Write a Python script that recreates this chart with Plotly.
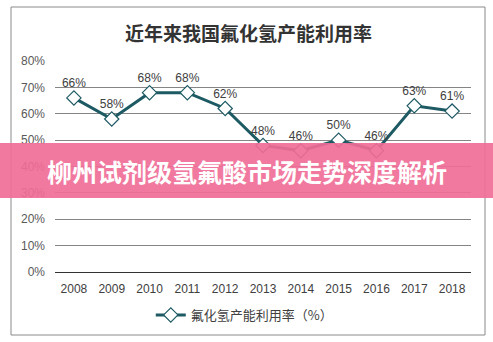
import plotly.graph_objects as go

years = ["2008", "2009", "2010", "2011", "2012", "2013", "2014", "2015", "2016", "2017", "2018"]
rates = [0.66, 0.58, 0.68, 0.68, 0.62, 0.48, 0.46, 0.50, 0.46, 0.63, 0.61]
labels = ["66%", "58%", "68%", "68%", "62%", "48%", "46%", "50%", "46%", "63%", "61%"]
yticks = [0, 0.1, 0.2, 0.3, 0.4, 0.5, 0.6, 0.7, 0.8]
yticktext = ["0%", "10%", "20%", "30%", "40%", "50%", "60%", "70%", "80%"]

title = "近年来我国氟化氢产能利用率"
series_name = "氟化氢产能利用率（%）"
banner = "柳州试剂级氢氟酸市场走势深度解析"

L, R, T, B = 55, 22, 61, 70
W, H = 493, 342
pw, ph = W - L - R, H - T - B
def px(x): return (x - L) / pw
def py(y): return (H - B - y) / ph

fig = go.Figure()
fig.add_trace(go.Scatter(
    x=years, y=rates, mode="lines+markers+text", name=series_name,
    text=labels, textposition="top center",
    textfont=dict(family="Liberation Sans, Arial", size=12, color="#404040"),
    line=dict(color="#1d5a63", width=3),
    marker=dict(symbol="diamond", size=11, color="white", line=dict(color="#1d5a63", width=1.2)),
    cliponaxis=False,
))

fig.update_layout(
    width=W, height=H,
    margin=dict(l=L, r=R, t=T, b=B, autoexpand=False),
    paper_bgcolor="white", plot_bgcolor="white",
    showlegend=True,
    legend=dict(orientation="h", x=0.455, xanchor="center", y=py(315), yanchor="middle",
                itemwidth=30,
                font=dict(family="Noto Sans CJK SC", size=13, color="#404040"),
                bgcolor="rgba(0,0,0,0)"),
    font=dict(family="Liberation Sans, Arial", size=12, color="#595959"),
    xaxis=dict(type="category", range=[-0.5, 10.5], automargin=False, showgrid=False, showline=True,
               linecolor="#333333", linewidth=1, ticks="", ticklabelstandoff=6,
               tickfont=dict(size=12, color="#404040"), fixedrange=True),
    yaxis=dict(range=[0, 0.8], automargin=False, tickvals=yticks, ticktext=yticktext, showgrid=True,
               gridcolor="#858585", gridwidth=1, zeroline=False, showline=False,
               ticks="", ticklabelstandoff=9, tickfont=dict(size=12, color="#595959"), fixedrange=True),
)

# outer border
fig.add_shape(type="rect", xref="paper", yref="paper",
              x0=px(11), x1=px(485), y0=py(335), y1=py(7),
              line=dict(color="#8a8a8a", width=1), fillcolor="rgba(0,0,0,0)", layer="below")

# title
fig.add_annotation(text="<b>" + title + "</b>", xref="paper", yref="paper",
                   x=px(248), y=py(32), xanchor="center", yanchor="middle", showarrow=False,
                   font=dict(family="Noto Sans CJK SC", size=19, color="#333333"))

# pink banner overlay
fig.add_shape(type="rect", xref="paper", yref="paper",
              x0=px(0), x1=px(493), y0=py(198), y1=py(143),
              line=dict(width=0), fillcolor="rgba(240,108,150,0.92)", layer="above")
fig.add_annotation(text="<b>" + banner + "</b>", xref="paper", yref="paper",
                   x=px(247), y=py(171), xanchor="center", yanchor="middle", showarrow=False,
                   font=dict(family="Noto Sans CJK SC", size=25, color="white"))

fig.write_html("out.html")
